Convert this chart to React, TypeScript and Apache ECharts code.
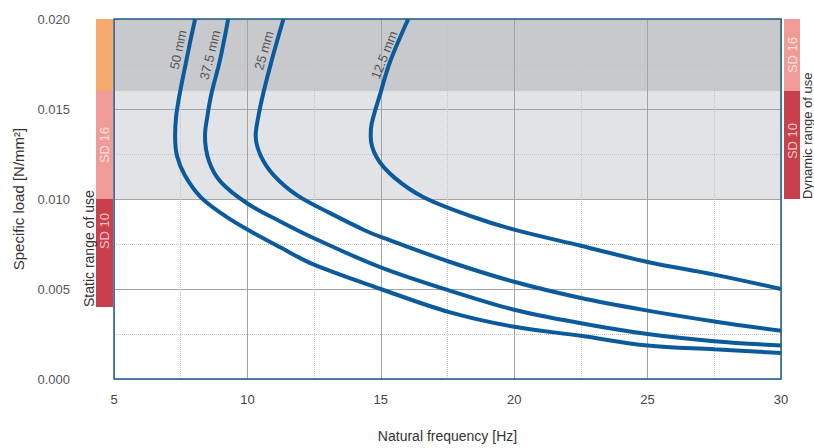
import { useEffect, useRef } from 'react';
import * as echarts from 'echarts';

// ---- data ----
const xTicks = [5, 10, 15, 20, 25, 30];
const yTicks = [0, 0.005, 0.01, 0.015, 0.02];
const curveNames = ['50 mm', '37.5 mm', '25 mm', '12.5 mm'];

const curve50mm: number[][] = [
  [8.04, 0.02], [7.85, 0.0187], [7.7, 0.0176], [7.47, 0.0159], [7.33, 0.0146], [7.29, 0.0135],
  [7.36, 0.0124], [7.66, 0.0113], [8.25, 0.0101], [9.12, 0.0091], [10.0, 0.0083],
  [11.25, 0.0073], [12.5, 0.00635], [15.0, 0.005], [17.6, 0.0037], [20.0, 0.0029],
  [22.5, 0.0024], [25.0, 0.00186], [27.5, 0.00165], [30.0, 0.00145],
];
const curve37mm: number[][] = [
  [9.28, 0.02], [8.97, 0.0177], [8.66, 0.0159], [8.5, 0.0146], [8.41, 0.0135], [8.56, 0.0121],
  [9.0, 0.01095], [10.0, 0.00975], [11.25, 0.00874], [12.5, 0.00782], [15.0, 0.0062],
  [17.6, 0.0049], [20.0, 0.00385], [22.5, 0.0031], [25.0, 0.0025], [27.5, 0.0021], [30.0, 0.00186],
];
const curve25mm: number[][] = [
  [11.35, 0.02], [10.91, 0.0177], [10.6, 0.0159], [10.4, 0.0145], [10.31, 0.0135], [10.5, 0.0124],
  [11.0, 0.0113], [11.87, 0.0102], [13.12, 0.0092], [14.37, 0.00828], [15.0, 0.0079],
  [17.6, 0.0065], [20.0, 0.0054], [22.5, 0.0045], [25.0, 0.0038], [27.5, 0.0032], [30.0, 0.00268],
];
const curve12mm: number[][] = [
  [16.03, 0.02], [15.34, 0.0176], [14.97, 0.0158], [14.66, 0.0142], [14.62, 0.0135], [14.85, 0.0123],
  [15.5, 0.0112], [16.6, 0.0101], [18.47, 0.009], [20.0, 0.0083], [22.5, 0.0074],
  [25.0, 0.0065], [27.5, 0.0058], [30.0, 0.005],
];
const curves = [curve50mm, curve37mm, curve25mm, curve12mm];

const labelAnchors: number[][] = [[7.41, 0.0183], [8.6, 0.018], [10.62, 0.01825], [15.13, 0.018]];
const labelAngles = [78, 76, 74, 68];

const bandLimits = [0.01, 0.016, 0.02];
const staticNames = ['', 'SD 16', 'SD 10'];
const staticLimits = [0.02, 0.016, 0.01, 0.004];
const dynamicNames = ['SD 16', 'SD 10'];
const dynamicLimits = [0.02, 0.016, 0.01];

// ---- styles / layout ----
const CURVE = '#0b5a9c';
const FONT = "'Liberation Sans', Arial, sans-serif";
const staticColors = ['#f3aa6c', '#ee9c95', '#c8404b'];
const dynamicColors = ['#ee9c95', '#c8404b'];
const staticLabelShift = [0, 0, -22];
const dynamicLabelShift = [0, -4];

export default function App() {
  const ref = useRef<HTMLDivElement>(null);
  useEffect(() => {
    document.body.style.margin = '0';
    const chart = echarts.init(ref.current!, undefined, { renderer: 'svg' });
    const xMin = xTicks[0];
    const xMax = xTicks[xTicks.length - 1];
    chart.setOption({
      animation: false,
      grid: {
        left: 114, right: 33, top: 19, bottom: 66, show: true, z: 10,
        backgroundColor: 'transparent', borderColor: '#1f5f8f', borderWidth: 1.5,
      },
      xAxis: {
        type: 'value', min: xMin, max: xMax, interval: 5, z: 2,
        axisLine: { show: false }, axisTick: { show: false },
        axisLabel: { color: '#444', fontSize: 13, margin: 14, fontFamily: FONT },
        splitLine: { lineStyle: { color: '#a3a3a3', width: 1 } },
        minorTick: { show: true, splitNumber: 2, length: 0 },
        minorSplitLine: { show: true, lineStyle: { color: '#c4c4c4', type: 'dotted', width: 1 } },
        name: 'Natural frequency [Hz]', nameLocation: 'middle', nameGap: 50,
        nameTextStyle: { color: '#333', fontSize: 14, fontFamily: FONT },
      },
      yAxis: {
        type: 'value', min: yTicks[0], max: yTicks[yTicks.length - 1], interval: 0.005, z: 2,
        axisLine: { show: false }, axisTick: { show: false },
        axisLabel: {
          color: '#555', fontSize: 13, margin: 44, fontFamily: FONT,
          formatter: (v: number) => v.toFixed(3),
        },
        splitLine: { lineStyle: { color: '#a3a3a3', width: 1 } },
        minorTick: { show: true, splitNumber: 2, length: 0 },
        minorSplitLine: { show: true, lineStyle: { color: '#c4c4c4', type: 'dotted', width: 1 } },
        name: 'Specific load [N/mm²]', nameLocation: 'middle', nameGap: 88,
        nameTextStyle: { color: '#333', fontSize: 15, fontFamily: FONT },
      },
      series: [
        {
          type: 'line', data: [], z: 1, silent: true,
          markArea: {
            silent: true,
            data: [
              [
                { xAxis: xMin, yAxis: bandLimits[1], itemStyle: { color: '#c7c9cc' } },
                { xAxis: xMax, yAxis: bandLimits[2] },
              ],
              [
                { xAxis: xMin, yAxis: bandLimits[0], itemStyle: { color: '#e1e3e6' } },
                { xAxis: xMax, yAxis: bandLimits[1] },
              ],
            ],
          },
        },
        ...curves.map((c, i) => ({
          type: 'line', name: curveNames[i], data: c, z: 3, smooth: 0.35,
          showSymbol: false, symbol: 'none',
          lineStyle: { color: CURVE, width: 4 },
        })),
        {
          type: 'scatter', z: 4, symbolSize: 0, silent: true,
          data: labelAnchors.map((p, i) => ({
            value: p,
            label: { rotate: labelAngles[i], formatter: curveNames[i] },
          })),
          label: { show: true, position: 'inside', color: '#333', fontSize: 13, fontFamily: FONT },
        },
      ],
    });

    const py = (v: number) => chart.convertToPixel({ yAxisIndex: 0 }, v) as number;
    const graphics: any[] = [];
    const addBlocks = (
      names: string[], limits: number[], colors: string[], shifts: number[], x: number, w: number,
    ) => {
      names.forEach((n, i) => {
        const y1 = py(limits[i]);
        const y2 = py(limits[i + 1]);
        graphics.push({ type: 'rect', shape: { x, y: y1, width: w, height: y2 - y1 }, style: { fill: colors[i] }, z: 5 });
        if (n) {
          graphics.push({
            type: 'text', x: x + w / 2, y: (y1 + y2) / 2 + shifts[i], rotation: Math.PI / 2, z: 6,
            style: {
              text: n, fill: 'rgba(255,255,255,0.7)', fontSize: 13, fontFamily: FONT,
              textAlign: 'center', textVerticalAlign: 'middle', align: 'center', verticalAlign: 'middle',
            },
          });
        }
      });
    };
    addBlocks(staticNames, staticLimits, staticColors, staticLabelShift, 96, 17);
    addBlocks(dynamicNames, dynamicLimits, dynamicColors, dynamicLabelShift, 784, 16);
    graphics.push({
      type: 'text', x: 96, y: py(staticLimits[staticLimits.length - 1]), rotation: Math.PI / 2, z: 6,
      style: {
        text: 'Static range of use', fill: '#333', fontSize: 14, fontFamily: FONT,
        textAlign: 'left', textVerticalAlign: 'bottom', align: 'left', verticalAlign: 'bottom',
      },
    });
    graphics.push({
      type: 'text', x: 801, y: py(dynamicLimits[dynamicLimits.length - 1]), rotation: Math.PI / 2, z: 6,
      style: {
        text: 'Dynamic range of use', fill: '#333', fontSize: 13, fontFamily: FONT,
        textAlign: 'left', textVerticalAlign: 'top', align: 'left', verticalAlign: 'top',
      },
    });
    chart.setOption({ graphic: graphics });
    return () => chart.dispose();
  }, []);
  return <div ref={ref} style={{ width: 814, height: 448 }} />;
}
